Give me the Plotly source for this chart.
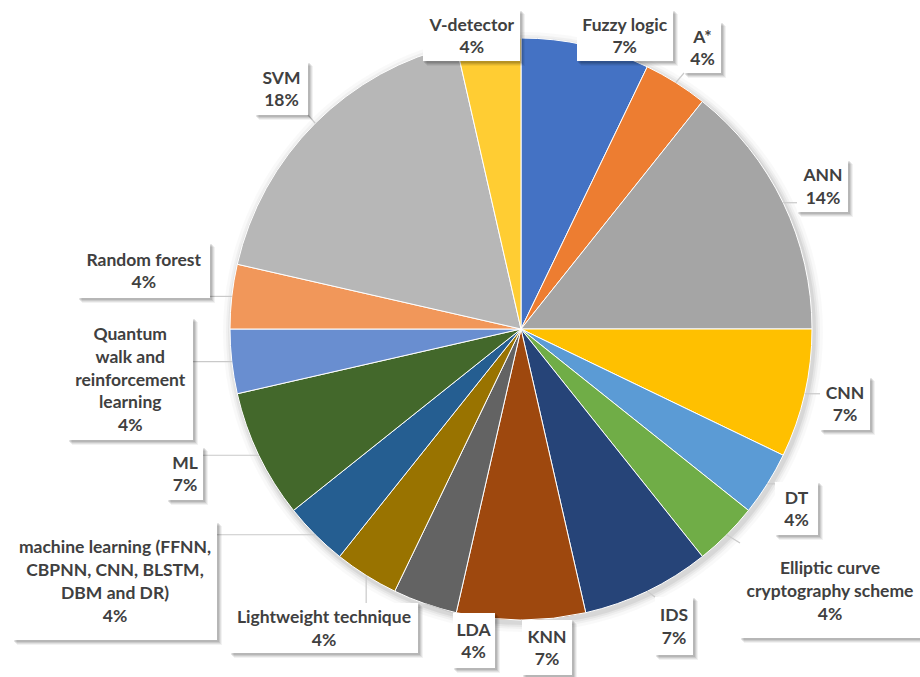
import math
import plotly.graph_objects as go

# Number of studies per technique (percentages are derived from these counts)
labels = [
    "Fuzzy logic", "A*", "ANN", "CNN", "DT",
    "Elliptic curve cryptography scheme", "IDS", "KNN", "LDA",
    "Lightweight technique",
    "machine learning (FFNN, CBPNN, CNN, BLSTM, DBM and DR)",
    "ML", "Quantum walk and reinforcement learning", "Random forest",
    "SVM", "V-detector",
]
counts = [2, 1, 4, 2, 1, 1, 2, 2, 1, 1, 1, 2, 1, 1, 5, 1]
colors = [
    "#4472C4", "#ED7D31", "#A5A5A5", "#FFC000", "#5B9BD5", "#70AD47",
    "#264478", "#9E480E", "#636363", "#997300", "#255E91", "#43682B",
    "#698ED0", "#F1975A", "#B7B7B7", "#FFCD33",
]

# Callout text (line breaks) per technique
label_lines = {
    "Elliptic curve cryptography scheme": "Elliptic curve<br>cryptography scheme",
    "machine learning (FFNN, CBPNN, CNN, BLSTM, DBM and DR)":
        "machine learning (FFNN,<br>CBPNN, CNN, BLSTM,<br>DBM and DR)",
    "Quantum walk and reinforcement learning":
        "Quantum<br>walk and<br>reinforcement<br>learning",
}

# Callout boxes in pixels: (left, right, top, bottom)
callout_box = {
    "Fuzzy logic": (577, 673, 10, 61),
    "A*": (684, 721, 22, 73),
    "ANN": (797, 848, 160, 212),
    "CNN": (820, 870, 377, 430),
    "DT": (775, 818, 482, 535),
    "Elliptic curve cryptography scheme": (740, 920, 543, 638),
    "IDS": (655, 693, 597, 655),
    "KNN": (522, 572, 620, 675),
    "LDA": (453, 495, 613, 668),
    "Lightweight technique": (230, 418, 603, 653),
    "machine learning (FFNN, CBPNN, CNN, BLSTM, DBM and DR)": (13, 217, 522, 640),
    "ML": (167, 203, 447, 500),
    "Quantum walk and reinforcement learning": (68, 193, 318, 440),
    "Random forest": (78, 210, 243, 298),
    "SVM": (255, 308, 62, 115),
    "V-detector": (423, 520, 10, 61),
}

W, H = 920, 677
CX, CY, R = 521, 329, 291  # pie centre and radius in pixels


def px(x):
    return x / W


def py(y):
    return 1 - y / H


fig = go.Figure(go.Pie(
    labels=labels,
    values=counts,
    sort=False,
    direction="clockwise",
    rotation=0,
    textinfo="none",
    hoverinfo="label+percent",
    marker=dict(colors=colors, line=dict(color="white", width=1)),
    domain=dict(x=[px(CX - R), px(CX + R)], y=[py(CY + R), py(CY - R)]),
    showlegend=False,
))

shapes = []
# soft glow under the pie
for grow, op in [(9, 0.025), (6, 0.035), (4, 0.045), (2, 0.06)]:
    shapes.append(dict(
        type="circle", xref="paper", yref="paper", layer="below",
        x0=px(CX - R - grow + 2), x1=px(CX + R + grow + 2),
        y0=py(CY + R + grow + 3), y1=py(CY - R - grow + 3),
        fillcolor=f"rgba(0,0,0,{op})", line=dict(width=0),
    ))

annotations = []
total = sum(counts)
cum = 0
for lab, val in zip(labels, counts):
    mid = (cum + val / 2) / total * 2 * math.pi
    cum += val
    ex = CX + R * math.sin(mid)
    ey = CY - R * math.cos(mid)
    x0, x1, y0, y1 = callout_box[lab]
    # leader from slice edge to nearest point on the callout box
    lx = min(max(ex, x0), x1)
    ly = min(max(ey, y0), y1)
    shapes.append(dict(
        type="line", xref="paper", yref="paper",
        x0=px(ex), y0=py(ey), x1=px(lx), y1=py(ly),
        line=dict(color="#C9C9C9", width=1.2),
    ))
    # drop shadow of the callout
    for off, op in [(5, 0.05), (4, 0.07), (3, 0.09), (2, 0.1)]:
        shapes.append(dict(
            type="rect", xref="paper", yref="paper",
            x0=px(x0 + off - 1), x1=px(x1 + off), y0=py(y1 + off), y1=py(y0 + off - 1),
            fillcolor=f"rgba(0,0,0,{op})", line=dict(width=0),
        ))
    pct = round(val / total * 100)
    text = label_lines.get(lab, lab) + f"<br>{pct}%"
    annotations.append(dict(
        xref="paper", yref="paper",
        x=px((x0 + x1) / 2), y=py((y0 + y1) / 2),
        xanchor="center", yanchor="middle",
        width=x1 - x0, height=y1 - y0,
        text=text, showarrow=False, align="center", valign="middle",
        bgcolor="white", borderpad=0, borderwidth=0,
        font=dict(family="Lato", size=17.5, color="#404040", weight="bold"),
    ))

fig.update_layout(
    width=W, height=H,
    margin=dict(l=0, r=0, t=0, b=0),
    paper_bgcolor="white",
    shapes=shapes,
    annotations=annotations,
)

fig.write_html("out.html")
